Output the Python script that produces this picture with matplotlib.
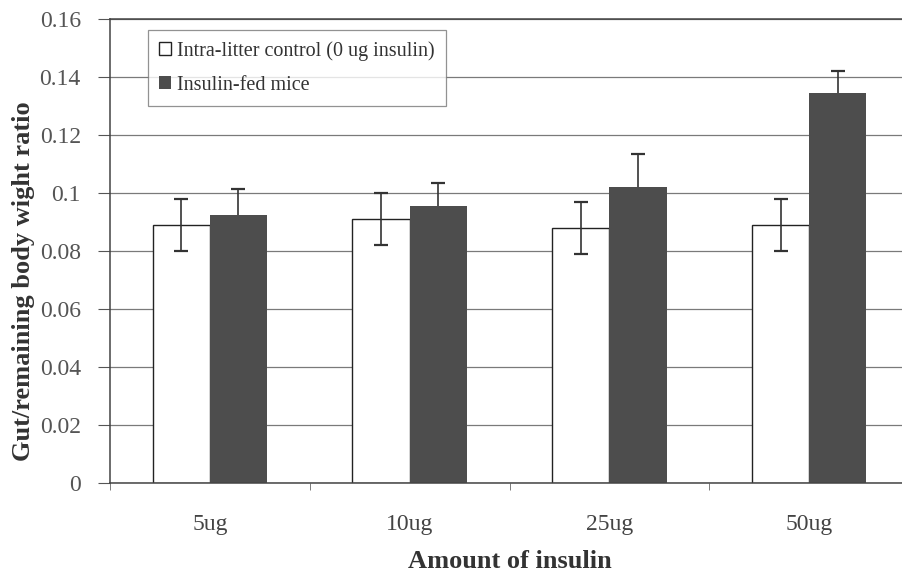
import numpy as np
import matplotlib.pyplot as plt

groups = ['5ug', '10ug', '25ug', '50ug']
control = [0.089, 0.091, 0.088, 0.089]
control_err = [0.009, 0.009, 0.009, 0.009]
fed = [0.0925, 0.0955, 0.102, 0.1345]
fed_err = [0.009, 0.008, 0.0115, 0.0075]

plt.rcParams['font.family'] = ['Liberation Serif', 'DejaVu Serif']

W, H = 902, 577
fig = plt.figure(figsize=(W/100, H/100), dpi=100)
# axes box in pixels: left 110, right 909 (runs off the page), top 19, bottom 483
ax = fig.add_axes([110/W, 1-483/H, (909-110)/W, (483-19)/H])

x = np.arange(len(groups))
bw = 0.286
ax.bar(x-bw/2, control, bw, color='white', edgecolor='#222', lw=1.0, zorder=2,
       label='Intra-litter control (0 ug insulin)')
ax.bar(x+bw/2, fed, bw, color='#4d4d4d', edgecolor='none', zorder=2,
       label='Insulin-fed mice')
# control error bars sit on top, insulin-fed ones hide behind the dark bars
ax.errorbar(x-bw/2, control, yerr=control_err, fmt='none', ecolor='#333',
            elinewidth=1.2, capsize=4.7, capthick=1.6, zorder=3)
ax.errorbar(x+bw/2, fed, yerr=fed_err, fmt='none', ecolor='#333',
            elinewidth=1.2, capsize=4.7, capthick=1.6, zorder=1)

ax.set_xlim(-0.5, 3.5)
ax.set_ylim(0, 0.16)
ax.set_yticks(np.arange(0, 0.161, 0.02))
ax.set_yticklabels(['0', '0.02', '0.04', '0.06', '0.08', '0.1', '0.12', '0.14', '0.16'])
ax.set_xticks(x)
ax.set_xticklabels(groups)
ax.set_xticks(np.arange(-0.5, 3.6, 1), minor=True)
ax.tick_params(axis='x', which='major', length=0, pad=22, labelsize=17, labelcolor='#444')
ax.tick_params(axis='x', which='minor', length=5, color='#666', direction='out')
ax.tick_params(axis='y', length=9, color='#555', direction='out', pad=12,
               labelsize=17, labelcolor='#555')

ax.yaxis.grid(True, color='#7a7a7a', lw=0.9, zorder=0)
ax.set_axisbelow(True)
for s in ax.spines.values():
    s.set_color('#444'); s.set_linewidth(1.1)

ax.set_ylabel('Gut/remaining body wight ratio', fontsize=19, fontweight='bold',
              color='#333')
ax.yaxis.set_label_coords(-(110-35)/(909-110), 0.435)
ax.set_xlabel('Amount of insulin', fontsize=19, fontweight='bold', color='#333')
ax.xaxis.set_label_coords(0.5, -(550-483)/(483-19))

leg = ax.legend(loc='upper left', bbox_to_anchor=((148-110)/(909-110), 1-(30-19)/(483-19)),
                borderaxespad=0, fontsize=14.5, frameon=True, fancybox=False,
                handlelength=0.6, handleheight=0.6, handletextpad=0.3,
                labelspacing=0.75, borderpad=0.55, labelcolor='#333')
leg.get_frame().set_edgecolor('#777')
leg.get_frame().set_linewidth(0.9)
leg.legend_handles[0].set_edgecolor('#222')

fig.savefig('out.png', dpi=100)
